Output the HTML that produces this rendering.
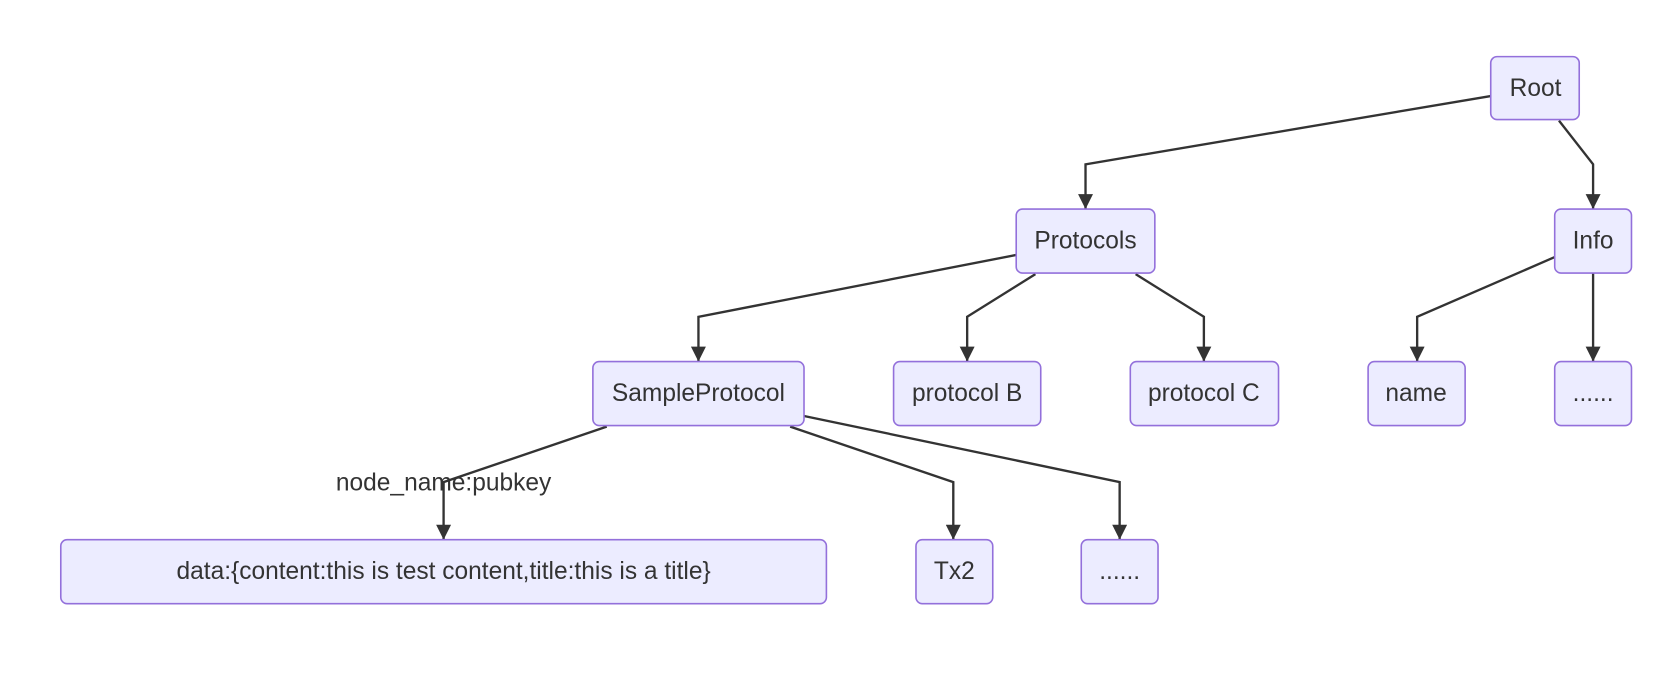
<!DOCTYPE html>
<html><head><meta charset="utf-8"><style>
html,body{margin:0;padding:0;background:#fff;}
svg{display:block;}
text{font-family:"Liberation Sans",Arial,sans-serif;font-size:23px;fill:#333;text-anchor:middle;dominant-baseline:central;}
rect{fill:#ECECFF;stroke:#9370DB;stroke-width:1.5;}
path{fill:none;stroke:#333;stroke-width:2.2;}
</style></head><body>
<svg width="1672" height="688" viewBox="0 0 1568 645" xmlns="http://www.w3.org/2000/svg">
<defs>
<marker id="b" viewBox="0 0 10 10" refX="10" refY="5" markerWidth="14" markerHeight="14" markerUnits="userSpaceOnUse" orient="auto"><path d="M0,0L10,5L0,10z" style="fill:#333;stroke:none"/></marker></defs>
<path d="M1398,90L1018,154L1018,196" marker-end="url(#b)"/>
<path d="M1462,113L1494,154L1494,196" marker-end="url(#b)"/>
<path d="M953,239L655,297L655,339" marker-end="url(#b)"/>
<path d="M971,257L907,297L907,339" marker-end="url(#b)"/>
<path d="M1065,257L1129,297L1129,339" marker-end="url(#b)"/>
<path d="M1458,241L1329,297L1329,339" marker-end="url(#b)"/>
<path d="M1494,256L1494,339" marker-end="url(#b)"/>
<path d="M569,400L416,452L416,506" marker-end="url(#b)"/>
<path d="M741,400L894,452L894,506" marker-end="url(#b)"/>
<path d="M754,390L1050,452L1050,506" marker-end="url(#b)"/>
<text x="416" y="453">node_name:pubkey</text>
<rect x="1398" y="53" width="83" height="59" rx="6"/><text x="1440" y="83">Root</text>
<rect x="953" y="196" width="130" height="60" rx="6"/><text x="1018" y="226">Protocols</text>
<rect x="1458" y="196" width="72" height="60" rx="6"/><text x="1494" y="226">Info</text>
<rect x="556" y="339" width="198" height="60" rx="6"/><text x="655" y="369">SampleProtocol</text>
<rect x="838" y="339" width="138" height="60" rx="6"/><text x="907" y="369">protocol B</text>
<rect x="1060" y="339" width="139" height="60" rx="6"/><text x="1129" y="369">protocol C</text>
<rect x="1283" y="339" width="91" height="60" rx="6"/><text x="1328" y="369">name</text>
<rect x="1458" y="339" width="72" height="60" rx="6"/><text x="1494" y="369">......</text>
<rect x="57" y="506" width="718" height="60" rx="6"/><text x="416" y="536">data:{content:this is test content,title:this is a title}</text>
<rect x="859" y="506" width="72" height="60" rx="6"/><text x="895" y="536">Tx2</text>
<rect x="1014" y="506" width="72" height="60" rx="6"/><text x="1050" y="536">......</text>
</svg>
</body></html>
